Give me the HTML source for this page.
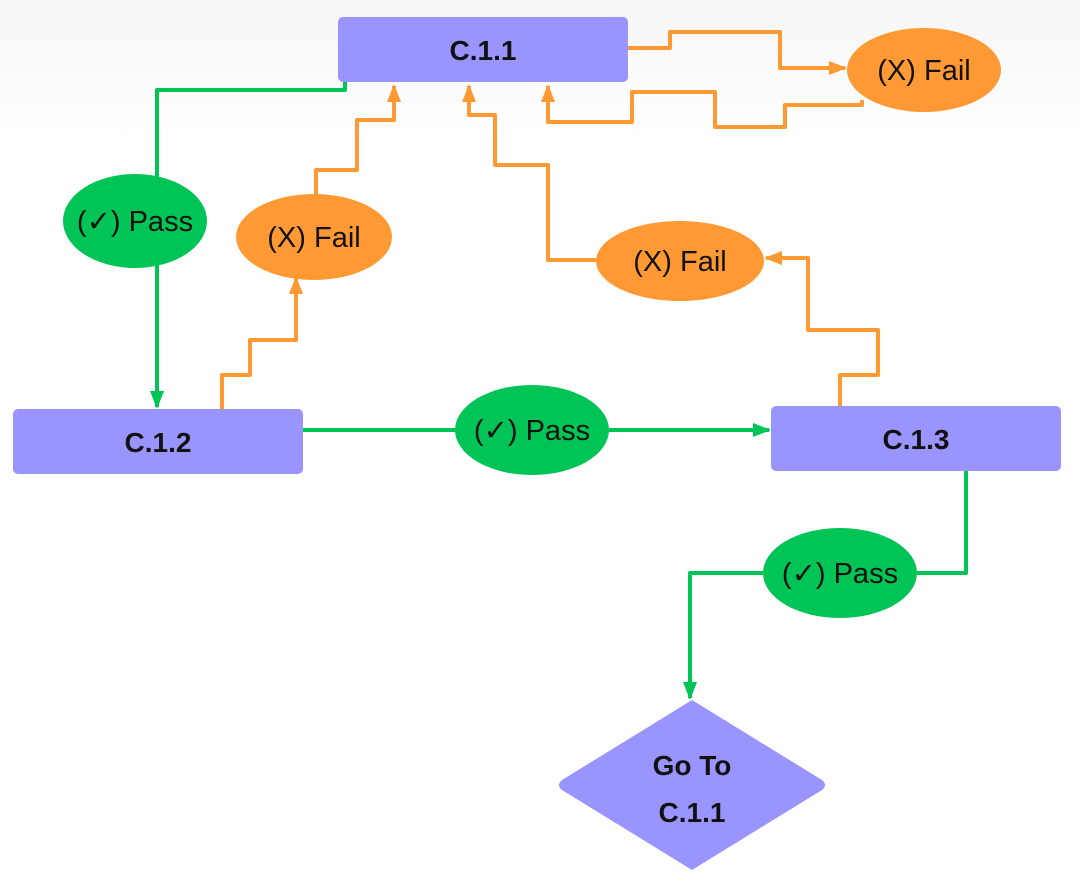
<!DOCTYPE html>
<html><head><meta charset="utf-8"><style>
html,body{margin:0;padding:0;background:#fff;}
svg{display:block;}
text{font-family:"Liberation Sans","DejaVu Sans",sans-serif;fill:#111;}
.b{font-weight:bold;font-size:28px;}
.n{font-size:29px;}
</style></head><body>
<svg width="1080" height="890" viewBox="0 0 1080 890">
<defs>
<linearGradient id="bg" x1="0" y1="0" x2="0" y2="1"><stop offset="0" stop-color="#f6f6f6"/><stop offset="1" stop-color="#ffffff"/></linearGradient>
<marker id="ao" markerWidth="18" markerHeight="16" refX="16" refY="8" orient="auto" markerUnits="userSpaceOnUse" viewBox="0 0 18 16"><path d="M0,1 L18,8 L0,15 z" fill="#ff9933"/></marker>
<marker id="ag" markerWidth="18" markerHeight="16" refX="16" refY="8" orient="auto" markerUnits="userSpaceOnUse" viewBox="0 0 18 16"><path d="M0,1 L18,8 L0,15 z" fill="#00c455"/></marker>
</defs>
<rect x="0" y="0" width="1080" height="140" fill="url(#bg)"/>
<g fill="none" stroke-width="4" stroke-linejoin="round">
<g stroke="#ff9933">
<path d="M628,48 H670 V32 H780 V68 H845" marker-end="url(#ao)"/>
<path d="M862,100 V105 H785 V127 H715 V92 H632 V122 H548 V86" marker-end="url(#ao)"/>
<path d="M222,409 V375 H250 V340 H296 V278" marker-end="url(#ao)"/>
<path d="M316,194 V170 H357 V120 H394 V86" marker-end="url(#ao)"/>
<path d="M840,406 V375 H878 V330 H808 V258 H766" marker-end="url(#ao)"/>
<path d="M596,260 H548 V165 H495 V115 H469 V86" marker-end="url(#ao)"/>
</g>
<g stroke="#00c455">
<path d="M345,82 V90 H157 V407" marker-end="url(#ag)"/>
<path d="M303,430 H769" marker-end="url(#ag)"/>
<path d="M966,471 V573 H917"/>
<path d="M763,573 H690 V698" marker-end="url(#ag)"/>
</g>
</g>
<rect x="338" y="17" width="290" height="65" rx="5" fill="#9a94ff"/>
<rect x="13" y="409" width="290" height="65" rx="5" fill="#9a94ff"/>
<rect x="771" y="406" width="290" height="65" rx="5" fill="#9a94ff"/>
<path d="M692,700 L822,780 Q828,785 822,790 L692,870 L562,790 Q556,785 562,780 Z" fill="#9a94ff"/>
<text class="b" x="483" y="60" text-anchor="middle">C.1.1</text>
<text class="b" x="158" y="452" text-anchor="middle">C.1.2</text>
<text class="b" x="916" y="449" text-anchor="middle">C.1.3</text>
<text class="b" x="692" y="775" text-anchor="middle">Go To</text>
<text class="b" x="692" y="822" text-anchor="middle">C.1.1</text>
<ellipse cx="924" cy="70" rx="77" ry="42" fill="#ff9933"/>
<ellipse cx="314" cy="237" rx="78" ry="43" fill="#ff9933"/>
<ellipse cx="680" cy="261" rx="84" ry="40" fill="#ff9933"/>
<ellipse cx="135" cy="221" rx="72" ry="47" fill="#00c455"/>
<ellipse cx="532" cy="430" rx="77" ry="45" fill="#00c455"/>
<ellipse cx="840" cy="573" rx="77" ry="45" fill="#00c455"/>
<text class="n" x="924" y="80" text-anchor="middle">(X) Fail</text>
<text class="n" x="314" y="247" text-anchor="middle">(X) Fail</text>
<text class="n" x="680" y="271" text-anchor="middle">(X) Fail</text>
<text class="n" x="135" y="231" text-anchor="middle">(✓) Pass</text>
<text class="n" x="532" y="440" text-anchor="middle">(✓) Pass</text>
<text class="n" x="840" y="583" text-anchor="middle">(✓) Pass</text>
</svg>
</body></html>
